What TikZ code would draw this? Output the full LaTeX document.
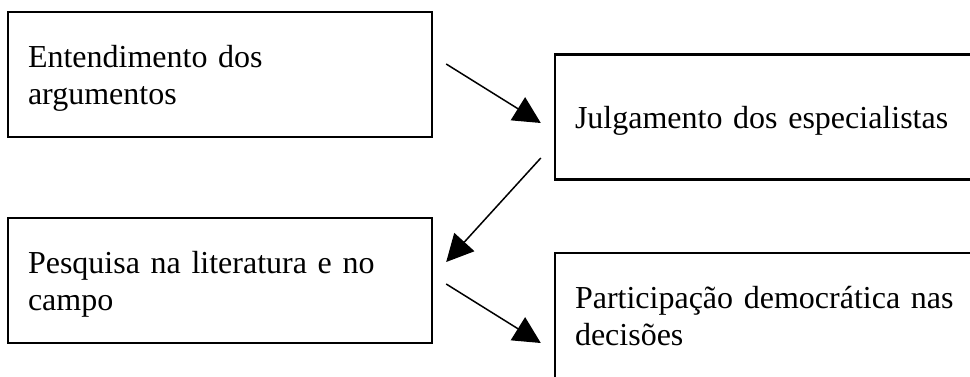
\documentclass[tikz,border=0pt]{standalone}
\usepackage{fontspec}
\setmainfont{Liberation Serif}
\usetikzlibrary{arrows.meta}

\begin{document}
\begin{tikzpicture}[x=1pt,y=-1pt,
caixa/.style={draw,line width=2.4pt,align=left,inner xsep=20pt,minimum height=125pt,text height=30pt,font=\fontsize{32}{37}\selectfont},
duas/.style={caixa,text depth=44pt},
uma/.style={caixa,text depth=7pt},
seta/.style={line width=1.5pt,-{Triangle[length=27pt,width=27pt]}}]
 \useasboundingbox (0,0) rectangle (970,376);
 \clip (0,0) rectangle (970,376);
 % caixas
 \node[duas,text width=384pt] (ent) at (220,74.5) {Entendimento dos\\argumentos};
 \node[uma,text width=390pt] (jul) at (770,117) {Julgamento dos especialistas};
 \node[duas,text width=384pt] (pes) at (220,280.5) {Pesquisa na literatura e no\\campo};
 \node[duas,text width=390pt] (par) at (770,315.5) {Participação democrática nas\\decisões};
 % setas
 \draw[seta] ([shift={(13,-10.5)}]ent.east) -- ([shift={(-13,6)}]jul.west);
 \draw[seta] ([shift={(-13,41)}]jul.west) -- ([shift={(13,-18.5)}]pes.east);
 \draw[seta] ([shift={(13,3.5)}]pes.east) -- ([shift={(-13,27.5)}]par.west);
\end{tikzpicture}
\end{document}
